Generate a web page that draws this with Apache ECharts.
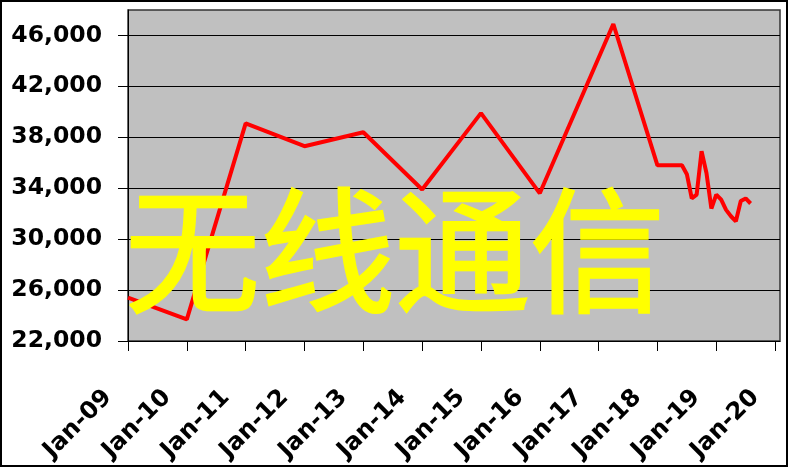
<!DOCTYPE html>
<html>
<head>
<meta charset="utf-8">
<script src="https://cdn.jsdelivr.net/npm/echarts@6/dist/echarts.min.js"></script>
<style>
html,body{margin:0;padding:0;background:#fff;}
#chart{width:788px;height:467px;}
</style>
</head>
<body>
<div id="chart"></div>
<script>
// Months since Jan-2009
var months = [0, 12, 24, 36, 48, 60, 72, 84, 99, 108, 113, 114, 115, 116, 117, 118, 119, 120, 121, 122, 123, 124, 125, 126, 127];
var values = [25400, 23700, 39100, 37300, 38400, 33900, 39900, 33600, 46900, 35800, 35800, 35100, 33200, 33500, 36900, 35200, 32400, 33500, 33100, 32300, 31800, 31400, 33000, 33200, 32800];
var xTickValues = [0, 12, 24, 36, 48, 60, 72, 84, 96, 108, 120, 132];
var xTickLabels = ['Jan-09','Jan-10','Jan-11','Jan-12','Jan-13','Jan-14','Jan-15','Jan-16','Jan-17','Jan-18','Jan-19','Jan-20'];
var yTickValues = [22000, 26000, 30000, 34000, 38000, 42000, 46000];
var yTickLabels = ['22,000','26,000','30,000','34,000','38,000','42,000','46,000'];
var watermark = '无线通信';

var seriesData = months.map(function (m, i) { return [m, values[i]]; });

var chart = echarts.init(document.getElementById('chart'), null, {renderer: 'canvas'});
chart.setOption({
  animation: false,
  backgroundColor: '#ffffff',
  grid: {
    left: 128, top: 10, right: 8, bottom: 126,
    show: true, backgroundColor: '#C0C0C0', borderColor: '#333', borderWidth: 1.5,
    containLabel: false, outerBoundsMode: 'none'
  },
  xAxis: {
    type: 'value', min: 0, max: 133,
    axisLine: {show: true, onZero: false, lineStyle: {color: '#000', width: 1}},
    axisTick: {show: true, length: 10, inside: false, customValues: xTickValues, lineStyle: {color: '#000', width: 1}},
    splitLine: {show: false},
    axisLabel: {
      customValues: xTickValues,
      rotate: 45, margin: 33, padding: [0, 28, 0, 0],
      fontFamily: 'DejaVu Sans', fontWeight: 'bold', fontSize: 24, color: '#000',
      formatter: function (v) { return xTickLabels[Math.round(v / 12)]; }
    }
  },
  yAxis: {
    type: 'value', min: 22000, max: 48000, interval: 4000,
    axisLine: {show: true, lineStyle: {color: '#000', width: 1}},
    axisTick: {show: true, length: 10, inside: false, customValues: yTickValues, lineStyle: {color: '#000', width: 1}},
    splitLine: {show: true, lineStyle: {color: '#000', width: 1}},
    axisLabel: {
      customValues: yTickValues,
      margin: 26,
      fontFamily: 'DejaVu Sans', fontWeight: 'bold', fontSize: 23.5, color: '#000',
      formatter: function (v) { return yTickLabels[yTickValues.indexOf(v)]; }
    }
  },
  series: [{
    type: 'line', data: seriesData, symbol: 'none', smooth: false,
    lineStyle: {color: '#FF0000', width: 4}, z: 3
  }],
  graphic: [
    {
      type: 'text', z: 100, x: 395, y: 251,
      style: {
        text: watermark, fill: '#FFFF00',
        stroke: '#FFFF00', lineWidth: 2.5,
        fontFamily: '"Noto Sans CJK SC"', fontSize: 135, fontWeight: 'normal',
        textAlign: 'center', textVerticalAlign: 'middle'
      }
    },
    {
      type: 'rect', z: 101,
      shape: {x: 1, y: 1, width: 786, height: 465},
      style: {fill: 'none', stroke: '#000', lineWidth: 2}
    }
  ]
});
</script>
</body>
</html>
